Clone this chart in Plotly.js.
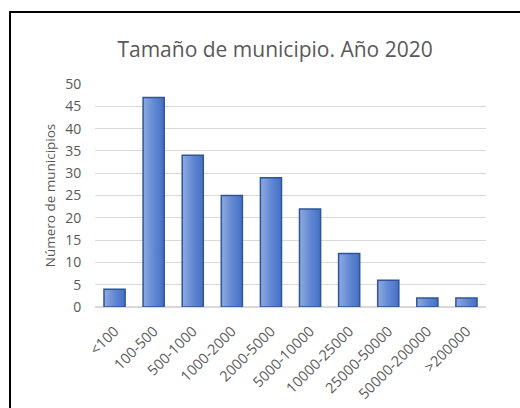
<!DOCTYPE html>
<html><head><meta charset="utf-8">
<script src="https://cdn.plot.ly/plotly-3.0.1.min.js"></script>
<style>
html,body{margin:0;padding:0;background:#fff;overflow:hidden;width:520px;height:408px;}
#frame{position:absolute;left:9px;top:11px;width:540px;height:420px;border:2px solid #000;box-sizing:border-box;}
#wrap{position:absolute;left:0;top:0;width:520px;height:408px;overflow:hidden;}
#chart{position:absolute;left:0;top:0;width:520px;height:408px;}
</style></head>
<body>
<div id="wrap">
<div id="chart"></div>
<div id="frame"></div>
</div>
<script>
const categories = ["<100","100-500","500-1000","1000-2000","2000-5000","5000-10000","10000-25000","25000-50000","50000-200000",">200000"];
const municipios = [4,47,34,25,29,22,12,6,2,2];
const yTicks = [0,5,10,15,20,25,30,35,40,45,50];

const font = "Open Sans, sans-serif";
const txt = "#595959";
const trace = {
  type: "bar",
  x: categories,
  y: municipios,
  marker: {color: "#5B80CC", line: {color: "#2F5597", width: 1.5}},
  hoverinfo: "none"
};
const layout = {
  width: 520, height: 408,
  margin: {l: 95, r: 34, t: 84, b: 101},
  paper_bgcolor: "#fff", plot_bgcolor: "#fff",
  bargap: 0.46,
  showlegend: false,
  title: {text: "Tamaño de municipio. Año 2020", x: 0.529, xanchor: "center", y: 0.878, yanchor: "middle",
          font: {family: font, size: 21, color: txt}},
  xaxis: {type: "category", tickangle: -45, ticks: "outside", ticklen: 9, tickcolor: "rgba(0,0,0,0)",
          tickfont: {family: font, size: 14.5, color: txt}, showline: false, showgrid: false,
          zeroline: false, fixedrange: true},
  yaxis: {range: [0, 50], tickvals: yTicks, ticks: "outside", ticklen: 10, tickcolor: "rgba(0,0,0,0)",
          tickfont: {family: font, size: 14, color: txt}, gridcolor: "#D9D9D9", gridwidth: 1,
          zeroline: true, zerolinecolor: "#D9D9D9", zerolinewidth: 1.5, showline: false,
          title: {text: "Número de municipios", font: {family: font, size: 13.5, color: txt}, standoff: 6},
          fixedrange: true}
};
Plotly.newPlot("chart", [trace], layout, {displayModeBar: false, staticPlot: true}).then(function(gd){
  const svg = gd.querySelector("svg.main-svg");
  const ns = "http://www.w3.org/2000/svg";
  let defs = svg.querySelector("defs");
  const lg = document.createElementNS(ns, "linearGradient");
  lg.setAttribute("id", "barGrad");
  lg.setAttribute("x1", "0"); lg.setAttribute("y1", "0");
  lg.setAttribute("x2", "1"); lg.setAttribute("y2", "0");
  [["0", "#8FAAE0"], ["0.55", "#5F86D2"], ["1", "#4470C4"]].forEach(function(s){
    const st = document.createElementNS(ns, "stop");
    st.setAttribute("offset", s[0]); st.setAttribute("stop-color", s[1]);
    lg.appendChild(st);
  });
  defs.appendChild(lg);
  gd.querySelectorAll(".bars .point path").forEach(function(p){ p.style.fill = "url(#barGrad)"; });
});
</script>
</body></html>
